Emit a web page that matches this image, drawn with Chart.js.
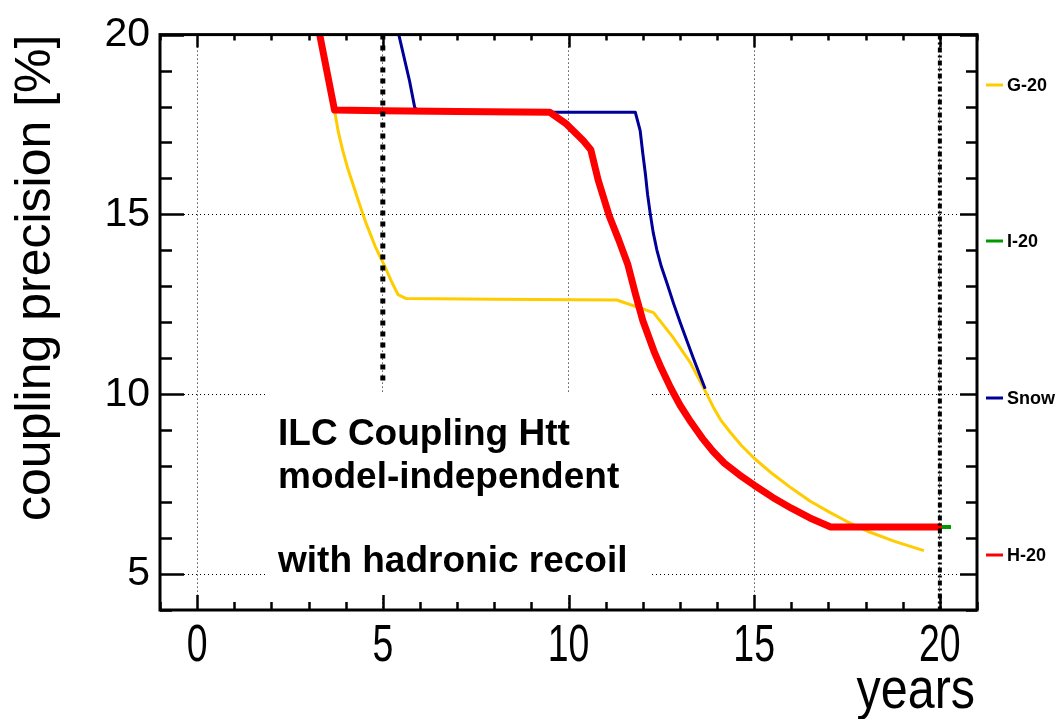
<!DOCTYPE html>
<html>
<head>
<meta charset="utf-8">
<script src="https://cdn.jsdelivr.net/npm/chart.js@4.4.1/dist/chart.umd.min.js"></script>
<style>
  html, body { margin: 0; padding: 0; background: #fff; }
  canvas { display: block; }
</style>
</head>
<body>
<canvas id="htt_chart" width="1060" height="719"></canvas>
<script>
// axis ticks
const xTicks = [0, 5, 10, 15, 20];
const xTickLabels = ["0", "5", "10", "15", "20"];
const yTicks = [5, 10, 15, 20];
const yTickLabels = ["5", "10", "15", "20"];

// legend (outside the frame, right side)
const seriesNames = ["G-20", "I-20", "Snow", "H-20"];
const seriesColors = ["#ffcc00", "#009900", "#000099", "#ff0000"];

// G-20
const g20Years = [3.3, 3.7, 3.8, 3.92, 4.05, 4.19, 4.35, 4.55, 4.8, 5.05, 5.25, 5.41, 5.63, 8.0, 11.3, 12.29, 12.8, 13.28, 13.5, 13.7, 13.9, 14.1, 14.35, 14.65, 15.0, 15.5, 16.0, 16.5, 17.06, 17.5, 18.05, 18.8, 19.57];
const g20Precision = [20, 17.9, 17.3, 16.78, 16.3, 15.86, 15.35, 14.75, 14.1, 13.56, 13.1, 12.77, 12.66, 12.64, 12.62, 12.27, 11.6, 10.88, 10.45, 10.05, 9.64, 9.28, 8.95, 8.58, 8.22, 7.78, 7.39, 7.03, 6.7, 6.46, 6.19, 5.9, 5.65];

// I-20 (hidden under H-20, only the tail sticks out)
const i20Years = [17.06, 20.3];
const i20Precision = [6.31, 6.31];

// Snow
const snowYears = [5.43, 5.72, 5.86, 6.0, 11.8, 11.93, 12.0, 12.07, 12.13, 12.2, 12.28, 12.38, 12.5, 12.65, 12.83, 13.01, 13.2, 13.37, 13.68];
const snowPrecision = [20, 18.71, 17.97, 17.84, 17.84, 17.33, 16.7, 16.13, 15.55, 15.03, 14.5, 14.01, 13.55, 13.09, 12.52, 11.99, 11.45, 10.98, 10.15];

// H-20
const h20Years = [3.3, 3.7, 5.0, 7.0, 9.5, 9.95, 10.4, 10.6, 10.8, 11.1, 11.35, 11.6, 11.8, 12.0, 12.3, 12.5, 12.75, 13.0, 13.3, 13.6, 13.9, 14.2, 14.6, 15.0, 15.5, 16.0, 16.5, 17.06, 20.05];
const h20Precision = [20, 17.9, 17.88, 17.86, 17.84, 17.51, 17.05, 16.8, 15.95, 14.95, 14.3, 13.6, 12.8, 12.05, 11.2, 10.72, 10.18, 9.7, 9.22, 8.78, 8.4, 8.08, 7.76, 7.47, 7.13, 6.83, 6.56, 6.31, 6.31];

// vertical markers
const stageYears = [5, 5];
const stagePrecision = [20, 10.35];
const endYears = [20, 20];
const endPrecision = [20, 4];

const textLines = ["ILC Coupling Htt", "model-independent", "", "with hadronic recoil"];

function pts(xs, ys) {
  return xs.map((x, i) => ({ x: x, y: ys[i] }));
}

const FONT = "'Liberation Sans', Arial, Helvetica, sans-serif";

const textBoxPlugin = {
  id: "textBox",
  beforeDatasetsDraw: (chart) => {
    const { ctx } = chart;
    ctx.save();
    ctx.fillStyle = "#fff";
    ctx.fillRect(268, 394, 652 - 268, 596 - 394);
    ctx.fillStyle = "#000";
    ctx.font = "bold 37px " + FONT;
    ctx.textBaseline = "alphabetic";
    ctx.textAlign = "left";
    const baselines = [445, 488, 530, 572];
    textLines.forEach((t, i) => {
      if (t) ctx.fillText(t, 278, baselines[i]);
    });
    ctx.restore();
  },
};

const framePlugin = {
  id: "frame",
  afterDraw: (chart) => {
    const { ctx } = chart;
    const { left, right, top, bottom } = chart.chartArea;
    const xs = chart.scales.x;
    const ys = chart.scales.y;
    ctx.save();
    ctx.strokeStyle = "#000";
    ctx.lineWidth = 2.5;
    ctx.beginPath();
    for (let v = -1; v <= 21; v++) {
      const px = Math.round(xs.getPixelForValue(v)) + 0.5;
      const major = v % 5 === 0;
      ctx.moveTo(px, bottom);
      ctx.lineTo(px, bottom - (major ? 15 : 8));
      ctx.moveTo(px, top);
      ctx.lineTo(px, top + (major ? 13 : 6));
    }
    for (let v = 4; v <= 20; v++) {
      const py = Math.round(ys.getPixelForValue(v)) + 0.5;
      const major = v % 5 === 0;
      ctx.moveTo(left, py);
      ctx.lineTo(left + (major ? 24 : 12), py);
      ctx.moveTo(right, py);
      ctx.lineTo(right - (major ? 17 : 11), py);
    }
    ctx.stroke();
    ctx.lineWidth = 3;
    ctx.strokeRect(left, top, right - left, bottom - top);

    // x tick labels, narrow like the original
    ctx.fillStyle = "#000";
    ctx.font = "52px " + FONT;
    ctx.textAlign = "center";
    ctx.textBaseline = "alphabetic";
    xTicks.forEach((v, i) => {
      ctx.save();
      ctx.translate(xs.getPixelForValue(v), 661);
      ctx.scale(0.72, 1);
      ctx.fillText(xTickLabels[i], 0, 0);
      ctx.restore();
    });
    ctx.save();
    ctx.translate(975, 708);
    ctx.scale(0.85, 1);
    ctx.textAlign = "right";
    ctx.font = "57px " + FONT;
    ctx.fillText("years", 0, 0);
    ctx.restore();

    // legend
    const legendY = [85, 241, 398, 555];
    ctx.font = "bold 18px " + FONT;
    ctx.textAlign = "left";
    ctx.textBaseline = "middle";
    seriesNames.forEach((name, i) => {
      ctx.strokeStyle = seriesColors[i];
      ctx.lineWidth = 3;
      ctx.beginPath();
      ctx.moveTo(986, legendY[i]);
      ctx.lineTo(1003, legendY[i]);
      ctx.stroke();
      ctx.fillStyle = "#000";
      ctx.fillText(name, 1007, legendY[i] + 1);
    });
    ctx.restore();
  },
};

const lineBase = { fill: false, pointRadius: 0, tension: 0, showLine: true, borderJoinStyle: "round" };

new Chart(document.getElementById("htt_chart"), {
  type: "scatter",
  data: {
    datasets: [
      { ...lineBase, label: "stage", data: pts(stageYears, stagePrecision), borderColor: "#000", borderWidth: 5, borderDash: [5, 6], borderCapStyle: "butt", order: -1 },
      { ...lineBase, label: "end", data: pts(endYears, endPrecision), borderColor: "#000", borderWidth: 4, borderDash: [5, 3, 2, 3], borderCapStyle: "butt", order: -1 },
      { ...lineBase, label: seriesNames[3], data: pts(h20Years, h20Precision), borderColor: seriesColors[3], borderWidth: 7, order: 0 },
      { ...lineBase, label: seriesNames[2], data: pts(snowYears, snowPrecision), borderColor: seriesColors[2], borderWidth: 3, order: 1 },
      { ...lineBase, label: seriesNames[0], data: pts(g20Years, g20Precision), borderColor: seriesColors[0], borderWidth: 3, order: 2 },
      { ...lineBase, label: seriesNames[1], data: pts(i20Years, i20Precision), borderColor: seriesColors[1], borderWidth: 4, order: 3 },
    ],
  },
  options: {
    responsive: false,
    animation: false,
    devicePixelRatio: 1,
    layout: { padding: { top: 30, right: 83, left: 0, bottom: 0 } },
    plugins: {
      legend: { display: false },
      tooltip: { enabled: false },
    },
    scales: {
      x: {
        type: "linear",
        min: -1,
        max: 21,
        afterBuildTicks: (axis) => {
          axis.ticks = xTicks.map((v) => ({ value: v }));
        },
        afterFit: (axis) => {
          axis.height = 109;
        },
        ticks: { display: false },
        grid: { color: "#000", lineWidth: 1, drawTicks: false },
        border: { display: false, dash: [1, 3] },
      },
      y: {
        type: "linear",
        min: 4,
        max: 20,
        afterBuildTicks: (axis) => {
          axis.ticks = yTicks.map((v) => ({ value: v }));
        },
        afterFit: (axis) => {
          axis.width = 160;
        },
        ticks: {
          color: "#000",
          padding: 10,
          font: { family: FONT, size: 41 },
          callback: (v) => yTickLabels[yTicks.indexOf(v)],
        },
        grid: { color: "#000", lineWidth: 1, drawTicks: false },
        border: { display: false, dash: [1, 3] },
        title: {
          display: true,
          text: "coupling precision [%]",
          align: "end",
          color: "#000",
          font: { family: FONT, size: 50 },
          padding: { top: 6, bottom: 0 },
        },
      },
    },
  },
  plugins: [textBoxPlugin, framePlugin],
});
</script>
</body>
</html>
